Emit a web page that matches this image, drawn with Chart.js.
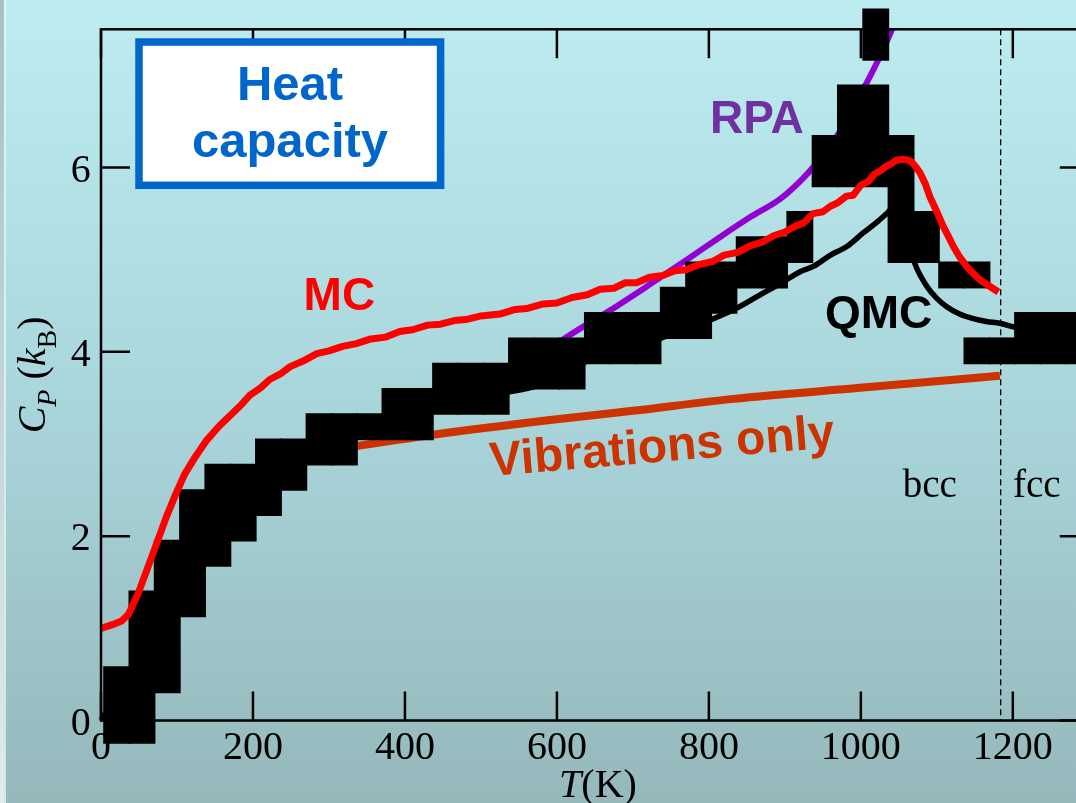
<!DOCTYPE html>
<html>
<head>
<meta charset="utf-8">
<title>Heat capacity</title>
<script src="https://cdn.jsdelivr.net/npm/chart.js@4/dist/chart.umd.min.js"></script>
<style>
  html, body { margin: 0; padding: 0; overflow: hidden; width: 1076px; height: 803px; background: #a9d6db; }
  #wrap { position: relative; width: 1076px; height: 803px; overflow: hidden; }
  canvas { display: block; }
</style>
</head>
<body>
<div id="wrap"><canvas id="c" width="1100" height="803"></canvas></div>
<script>
// ---- Axis ticks ----
const xTicks = [0, 200, 400, 600, 800, 1000, 1200];
const yTicks = [0, 2, 4, 6];
const phaseBoundaryT = 1184; // bcc -> fcc

// ---- Monte Carlo (MC) ----
const mcT = [0,15,27,36,49,62,75,86,97,110,124,139,155,170,185,196,210,222,236,249,266,284,300,318,336,355,375,393,410,430,447,465,480,500,525,545,560,582,600,620,640,657,675,690,705,722,740,755,770,788,805,820,838,854,870,885,900,915,925,937,950,960,970,981,990,1000,1010,1018,1025,1033,1040,1047,1055,1062,1067,1073,1078,1085,1091,1100,1108,1116,1122,1130,1139,1148,1157,1168,1181];
const mcCp = [1.00,1.04,1.08,1.15,1.38,1.67,1.96,2.21,2.43,2.67,2.86,3.04,3.19,3.31,3.43,3.53,3.61,3.70,3.76,3.84,3.90,3.98,4.01,4.06,4.09,4.14,4.16,4.22,4.24,4.29,4.30,4.34,4.35,4.39,4.41,4.46,4.47,4.52,4.53,4.59,4.62,4.68,4.69,4.75,4.75,4.81,4.83,4.88,4.89,4.95,4.98,5.05,5.08,5.15,5.19,5.26,5.30,5.37,5.40,5.50,5.52,5.58,5.62,5.69,5.70,5.81,5.85,5.93,5.96,6.01,6.04,6.08,6.09,6.08,6.06,6.00,5.94,5.82,5.68,5.52,5.37,5.24,5.14,5.03,4.93,4.85,4.78,4.72,4.65];

// ---- Quantum Monte Carlo (QMC) ----
const qmcT = [0,50,100,150,200,300,400,500,569,620,650,720,760,806,838,876,894,920,938,960,981,1003,1020,1034,1045,1058,1071,1087,1100,1113,1130,1148,1165,1183,1202,1250,1300];
const qmcCp = [0,0.6,1.6,2.25,2.65,3.05,3.3,3.52,3.62,3.8,3.95,4.1,4.22,4.36,4.48,4.66,4.74,4.87,4.93,5.05,5.14,5.29,5.40,5.50,5.58,5.35,4.96,4.71,4.58,4.49,4.41,4.36,4.33,4.31,4.27,4.22,4.20];

// ---- RPA ----
const rpaT = [0,50,100,150,200,300,400,500,560,613,670,722,771,810,854,894,920,940,970,1000,1023,1041,1055];
const rpaCp = [0,0.6,1.6,2.25,2.65,3.08,3.32,3.6,3.85,4.16,4.45,4.73,5.0,5.22,5.46,5.66,5.85,6.03,6.36,6.8,7.17,7.5,7.8];

// ---- Vibrations only ----
const vibT = [0,40,70,100,150,200,250,300,338,437,591,700,832,999,1183];
const vibCp = [0,0.45,1.1,1.6,2.25,2.6,2.8,2.92,2.98,3.10,3.26,3.36,3.49,3.61,3.74];

// ---- Experiment: band per temperature column (low / high Cp) ----
const expT = [20.6,53.9,87.2,120.5,153.8,187.1,220.4,253.7,287.0,320.3,353.6,386.9,420.2,453.5,486.8,520.1,553.4,586.7,620.0,653.3,686.6,719.9,753.2,786.5,819.8,853.1,886.4,919.7,953.0,986.3,1019.6,1052.9,1086.2,1119.5,1152.8,1186.1,1219.4,1252.7,1286.0];
const expLow = [-0.244,-0.244,0.305,1.129,1.678,1.952,2.227,2.501,2.776,2.776,3.050,3.050,3.050,3.325,3.325,3.325,3.599,3.599,3.599,3.874,3.874,3.874,4.148,4.148,4.423,4.697,4.697,4.972,5.795,5.795,5.795,4.972,4.972,4.697,4.697,3.874,3.874,3.874,3.874];
const expHigh = [0.580,1.403,1.952,2.501,2.776,2.776,3.050,3.050,3.325,3.325,3.325,3.599,3.599,3.874,3.874,3.874,4.148,4.148,4.148,4.423,4.423,4.423,4.697,4.972,4.972,5.246,5.246,5.521,6.344,6.893,6.893,6.344,5.521,4.972,4.972,4.148,4.423,4.423,4.423];
// detached points in two of the columns
const expExtraT = [1019.6, 1152.8];
const expExtraLow = [7.168, 3.874];
const expExtraHigh = [7.717, 4.148];

const pts = (xs, ys) => xs.map((x, i) => ({ x, y: ys[i] }));
const expBars = expT.map((x, i) => ({ x, y: [expLow[i], expHigh[i]] }))
  .concat(expExtraT.map((x, i) => ({ x, y: [expExtraLow[i], expExtraHigh[i]] })));

const SERIF = '"Liberation Serif", "Times New Roman", serif';
const SANS = '"Liberation Sans", Arial, sans-serif';

// Frame, inward ticks, tick labels, titles and annotations
const framePlugin = {
  id: 'frame',
  beforeDraw(chart) {
    const { ctx, width, height } = chart;
    ctx.save();
    const g = ctx.createLinearGradient(0, 0, 0, height);
    g.addColorStop(0, '#bdedf1');
    g.addColorStop(0.5, '#a9d6db');
    g.addColorStop(1, '#95b8bb');
    ctx.fillStyle = g;
    ctx.fillRect(0, 0, width, height);
    // slide edge at the far left
    const e = ctx.createLinearGradient(0, 0, 0, height);
    e.addColorStop(0, '#a6bfc7');
    e.addColorStop(1, '#e2eaec');
    ctx.fillStyle = e;
    ctx.fillRect(0, 0, 4, height);
    ctx.fillStyle = 'rgba(235,248,250,0.7)';
    ctx.fillRect(4, 0, 2, height);
    ctx.restore();
  },
  beforeDatasetsDraw(chart) {
    const { ctx, chartArea: a, scales: { x, y } } = chart;
    ctx.save();
    // phase boundary
    ctx.strokeStyle = '#000';
    ctx.lineWidth = 1.3;
    ctx.setLineDash([6, 4]);
    const bx = x.getPixelForValue(phaseBoundaryT);
    ctx.beginPath();
    ctx.moveTo(bx, a.top);
    ctx.lineTo(bx, a.bottom);
    ctx.stroke();
    ctx.setLineDash([]);

    // tick labels
    ctx.fillStyle = '#000';
    ctx.font = '40px ' + SERIF;
    ctx.textBaseline = 'alphabetic';
    ctx.textAlign = 'center';
    xTicks.forEach(v => ctx.fillText(String(v), x.getPixelForValue(v), a.bottom + 38.2));
    ctx.textAlign = 'right';
    yTicks.forEach(v => ctx.fillText(String(v), a.left - 10.3, y.getPixelForValue(v) + 14));

    // x title: T(K)
    const parts = [
      { t: 'T', f: 'italic 40px ' + SERIF },
      { t: '(K)', f: '40px ' + SERIF }
    ];
    let w = 0;
    parts.forEach(p => { ctx.font = p.f; p.w = ctx.measureText(p.t).width; w += p.w; });
    let cx = 598 - w / 2;
    ctx.textAlign = 'left';
    parts.forEach(p => { ctx.font = p.f; ctx.fillText(p.t, cx, 797.3); cx += p.w; });

    // y title: C_P (k_B)
    const yp = [
      { t: 'C', f: 'italic 40px ' + SERIF, dy: 0 },
      { t: 'P', f: 'italic 28px ' + SERIF, dy: 11 },
      { t: ' (', f: '40px ' + SERIF, dy: 0 },
      { t: 'k', f: 'italic 40px ' + SERIF, dy: 0 },
      { t: 'B', f: '28px ' + SERIF, dy: 11 },
      { t: ')', f: '40px ' + SERIF, dy: 0 }
    ];
    w = 0;
    yp.forEach(p => { ctx.font = p.f; p.w = ctx.measureText(p.t).width; w += p.w; });
    ctx.translate(45, (a.top + a.bottom) / 2);
    ctx.rotate(-Math.PI / 2);
    cx = -w / 2;
    yp.forEach(p => { ctx.font = p.f; ctx.fillText(p.t, cx, p.dy); cx += p.w; });
    ctx.restore();
  },
  afterDatasetsDraw(chart) {
    const { ctx, chartArea: a, scales: { x, y } } = chart;
    ctx.save();
    ctx.strokeStyle = '#000';
    ctx.lineWidth = 2.5;
    ctx.strokeRect(a.left, a.top, a.right - a.left, a.bottom - a.top);
    const TL = 29;
    ctx.beginPath();
    xTicks.forEach(v => {
      const px = x.getPixelForValue(v);
      ctx.moveTo(px, a.bottom); ctx.lineTo(px, a.bottom - TL);
      ctx.moveTo(px, a.top); ctx.lineTo(px, a.top + TL);
    });
    yTicks.forEach(v => {
      const py = y.getPixelForValue(v);
      ctx.moveTo(a.left, py); ctx.lineTo(a.left + TL, py);
      ctx.moveTo(a.right, py); ctx.lineTo(a.right - TL, py);
    });
    ctx.stroke();

    // title box
    ctx.fillStyle = '#ffffff';
    ctx.fillRect(139, 42, 301.6, 143.3);
    ctx.strokeStyle = '#0066cc';
    ctx.lineWidth = 7.5;
    ctx.strokeRect(139, 42, 301.6, 143.3);
    ctx.fillStyle = '#0066cc';
    ctx.font = 'bold 49px ' + SANS;
    ctx.textAlign = 'center';
    ctx.textBaseline = 'alphabetic';
    ctx.fillText('Heat', 290, 100);
    ctx.fillText('capacity', 290, 156.7);

    // curve labels
    ctx.textAlign = 'left';
    ctx.font = 'bold 46px ' + SANS;
    ctx.fillStyle = '#ff0000';
    ctx.fillText('MC', 303.6, 310);
    ctx.fillStyle = '#7030a0';
    ctx.fillText('RPA', 710, 133.3);
    ctx.fillStyle = '#000000';
    ctx.fillText('QMC', 825, 328);

    ctx.save();
    ctx.translate(491, 476);
    ctx.rotate(-4.8 * Math.PI / 180);
    ctx.fillStyle = '#cc3300';
    ctx.font = 'bold 48px ' + SANS;
    ctx.fillText('Vibrations only', 0, 0);
    ctx.restore();

    // phase labels
    ctx.fillStyle = '#000';
    ctx.font = '39px ' + SERIF;
    ctx.fillText('bcc', 902.8, 496.7);
    ctx.fillText('fcc', 1012.9, 496.7);
    ctx.restore();
  }
};

new Chart(document.getElementById('c'), {
  type: 'line',
  data: {
    datasets: [
      {
        label: 'MC', data: pts(mcT, mcCp),
        borderColor: '#ff0000', borderWidth: 7, pointRadius: 0, tension: 0,
        borderJoinStyle: 'round'
      },
      {
        label: 'QMC', data: pts(qmcT, qmcCp),
        borderColor: '#000000', borderWidth: 5.5, pointRadius: 0,
        cubicInterpolationMode: 'monotone'
      },
      {
        type: 'bar', label: 'Experiment', data: expBars,
        backgroundColor: '#000000', borderWidth: 0, barThickness: 25.3,
        inflateAmount: 0.8, clip: false
      },
      {
        label: 'RPA', data: pts(rpaT, rpaCp),
        borderColor: '#9400d3', borderWidth: 6, pointRadius: 0,
        cubicInterpolationMode: 'monotone',
        clip: { left: 5, top: 0, right: 0, bottom: 5 }
      },
      {
        label: 'Vibrations only', data: pts(vibT, vibCp),
        borderColor: '#cc3300', borderWidth: 8, pointRadius: 0,
        cubicInterpolationMode: 'monotone'
      }
    ]
  },
  options: {
    responsive: false,
    animation: false,
    events: [],
    layout: { padding: { left: 101, right: 11.2, top: 29.3, bottom: 82.5 } },
    plugins: { legend: { display: false }, tooltip: { enabled: false } },
    scales: {
      x: { type: 'linear', min: 0, max: 1300, offset: false, display: false },
      y: { type: 'linear', min: 0, max: 7.5, display: false }
    }
  },
  plugins: [framePlugin]
});
</script>
</body>
</html>
